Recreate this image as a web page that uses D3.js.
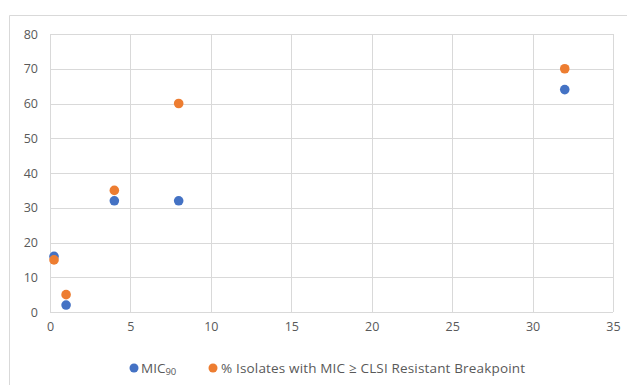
<!DOCTYPE html>
<html lang="en">
<head>
    <meta charset="UTF-8">
    <title>MIC chart</title>
    <script src="https://d3js.org/d3.v7.min.js"></script>
    <style>
        body { margin: 0; background: #fff; }
        text { font-family: "Open Sans", sans-serif; fill: #595959; }
    </style>
</head>
<body>
    <svg width="627" height="385" id="mainsvg"></svg>
    <script>
        // values
        const xValues = [0.25, 1, 4, 8, 32]
        const mic90 = [16, 2, 32, 32, 64]
        const pctResistant = [15, 5, 35, 60, 70]
        const xTicks = [0, 5, 10, 15, 20, 25, 30, 35]
        const yTicks = [0, 10, 20, 30, 40, 50, 60, 70, 80]
        const seriesNames = ["MIC", "% Isolates with MIC \u2265 CLSI Resistant Breakpoint"]
        const colors = ["#4472C4", "#ED7D31"]

        const svg = d3.select("#mainsvg")
        const margin = {top: 34, right: 14, bottom: 73, left: 50}
        const width = +svg.attr("width"), height = +svg.attr("height")
        const innerWidth = width - margin.left - margin.right
        const innerHeight = height - margin.top - margin.bottom

        // outer chart frame (only top and left edges are in view)
        svg.append("path")
            .attr("d", `M9.5,${height} V15.5 H${width}`)
            .attr("fill", "none").attr("stroke", "#d9d9d9")

        const g = svg.append("g").attr("transform", `translate(${margin.left}, ${margin.top})`)

        const xScale = d3.scaleLinear().domain([0, 35]).range([0, innerWidth])
        const yScale = d3.scaleLinear().domain([0, 80]).range([innerHeight, 0])

        const xAxis = d3.axisBottom(xScale).tickValues(xTicks).tickSize(-innerHeight).tickPadding(10)
        const yAxis = d3.axisLeft(yScale).tickValues(yTicks).tickSize(-innerWidth).tickPadding(12)

        g.append("g").attr("class", "x_axis").attr("transform", `translate(0, ${innerHeight})`).call(xAxis)
        g.append("g").attr("class", "y_axis").call(yAxis)

        g.selectAll(".domain").remove()
        g.selectAll(".tick line").attr("stroke", "#d9d9d9").attr("shape-rendering", "crispEdges")
        g.selectAll(".tick text").style("font-size", "12.5px").attr("fill", "#595959")
            .style("font-family", "'Open Sans', sans-serif")

        const series = [mic90, pctResistant]
        series.forEach((vals, i) => {
            g.append("g").selectAll("circle")
                .data(xValues.map((x, j) => ({x: x, y: vals[j]})))
                .join("circle")
                .attr("cx", d => xScale(d.x))
                .attr("cy", d => yScale(d.y))
                .attr("r", 4.8)
                .attr("fill", colors[i])
        })

        // legend
        const legend = svg.append("g").attr("transform", "translate(0, 368)")
        legend.append("circle").attr("cx", 134).attr("cy", 0).attr("r", 4.5).attr("fill", colors[0])
        const t0 = legend.append("text").attr("x", 141).attr("y", 5).style("font-size", "13.5px")
        t0.append("tspan").text(seriesNames[0])
        t0.append("tspan").attr("dy", 2).style("font-size", "9.5px").text("90")
        legend.append("circle").attr("cx", 213).attr("cy", 0).attr("r", 4.5).attr("fill", colors[1])
        legend.append("text").attr("x", 221).attr("y", 5).style("font-size", "13.5px")
            .attr("textLength", 304).attr("lengthAdjust", "spacing").text(seriesNames[1])
    </script>
</body>
</html>
